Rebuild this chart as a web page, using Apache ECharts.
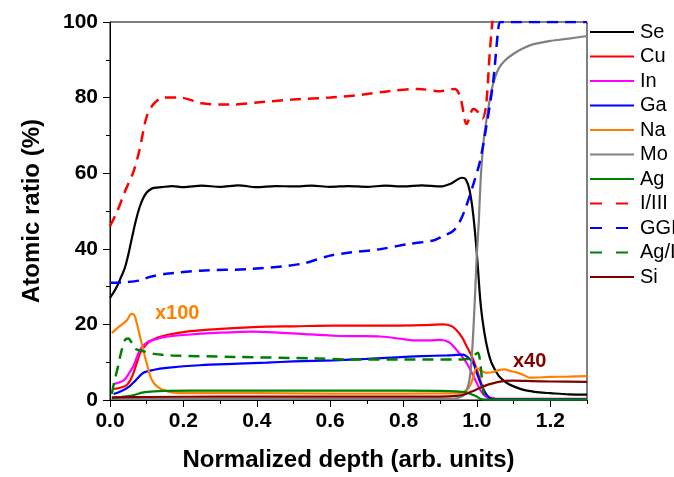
<!DOCTYPE html>
<html>
<head>
<meta charset="utf-8">
<script src="https://cdn.jsdelivr.net/npm/echarts@6/dist/echarts.min.js"></script>
<style>
html, body { margin: 0; padding: 0; background: #fff; }
#chart { width: 674px; height: 477px; }
</style>
</head>
<body>
<div id="chart"></div>
<script>
// depth profile data, [normalized depth, atomic ratio %]
var seData = [[0.0,27],[0.01,28.5],[0.02,30.2],[0.03,32.5],[0.04,34.8],[0.05,38.5],[0.06,43],[0.07,47.3],[0.08,50.8],[0.09,53.3],[0.1,54.9],[0.11,55.7],[0.12,56.1],[0.14,56.3],[0.17,56.6],[0.2,56.3],[0.25,56.7],[0.3,56.4],[0.35,56.8],[0.4,56.3],[0.45,56.6],[0.5,56.5],[0.55,56.7],[0.6,56.4],[0.65,56.6],[0.7,56.4],[0.75,56.7],[0.8,56.5],[0.85,56.8],[0.9,56.5],[0.93,57.3],[0.95,58.5],[0.96,58.8],[0.97,58.3],[0.98,55.5],[0.99,49],[1.0,38.5],[1.01,25.5],[1.02,18],[1.03,13],[1.04,9.8],[1.06,6.3],[1.08,4.6],[1.1,3.6],[1.13,2.6],[1.17,2],[1.2,1.8],[1.25,1.5],[1.3,1.4]];
var cuData = [[0.01,2.9],[0.03,3.3],[0.045,3.9],[0.055,5.2],[0.064,7.2],[0.073,9.8],[0.082,12.4],[0.095,14.3],[0.109,15.5],[0.13,16.5],[0.154,17.2],[0.209,18.1],[0.27,18.6],[0.336,19],[0.427,19.4],[0.5,19.5],[0.609,19.7],[0.7,19.7],[0.781,19.7],[0.85,19.8],[0.908,20],[0.93,19.6],[0.944,18.5],[0.96,16.5],[0.972,14.2],[0.99,10.7],[1.008,5.5],[1.02,2.3],[1.03,0.9],[1.05,0.4],[1.3,0.3]];
var inData = [[0.01,4.2],[0.03,4.8],[0.041,5.5],[0.05,6.8],[0.064,9],[0.073,11.3],[0.082,13.3],[0.1,15.2],[0.118,15.9],[0.15,16.7],[0.2,17.2],[0.3,17.8],[0.39,18.1],[0.45,17.9],[0.52,17.5],[0.609,17],[0.68,16.9],[0.736,16.8],[0.8,16.1],[0.826,15.8],[0.87,15.8],[0.9,15.9],[0.925,15.2],[0.944,13.3],[0.972,9.8],[0.999,4.6],[1.015,1.8],[1.03,0.5],[1.05,0.2],[1.3,0.2]];
var gaData = [[0.01,1.6],[0.03,2.3],[0.054,3.7],[0.07,5.2],[0.091,7.2],[0.12,8],[0.154,8.5],[0.245,9.2],[0.35,9.6],[0.427,9.9],[0.5,10.2],[0.609,10.5],[0.7,10.9],[0.781,11.3],[0.85,11.6],[0.92,11.8],[0.963,12],[0.975,11.3],[0.99,9.8],[1.0,7],[1.017,2.9],[1.035,0.5],[1.06,0.2],[1.3,0.2]];
var naData = [[0.005,17.7],[0.02,19],[0.045,21],[0.059,22.8],[0.066,22.5],[0.072,20.7],[0.079,18],[0.086,15.1],[0.093,12.3],[0.1,9.8],[0.113,5.5],[0.132,3.3],[0.168,2],[0.2,1.8],[0.4,1.8],[0.6,1.7],[0.8,1.7],[0.95,1.8],[0.97,2.5],[0.981,3.7],[0.99,6],[0.999,8.5],[1.01,7.8],[1.026,7.2],[1.045,7.4],[1.06,7.9],[1.075,8.1],[1.09,7.7],[1.108,7.3],[1.13,6.5],[1.144,5.9],[1.2,6.1],[1.25,6.2],[1.3,6.3]];
var moData = [[0.005,0.3],[0.5,0.3],[0.94,0.4],[0.955,0.8],[0.965,1.3],[0.975,3.5],[0.98,5.5],[0.985,10],[0.99,18],[0.995,28],[1.0,39],[1.005,47],[1.01,58],[1.015,65],[1.02,70],[1.03,76.5],[1.04,82],[1.05,85.5],[1.06,87.8],[1.075,89.7],[1.1,91.6],[1.125,93],[1.15,94],[1.2,95],[1.25,95.6],[1.3,96.3]];
var agData = [[0.005,0.5],[0.03,0.8],[0.06,1.2],[0.091,2],[0.12,2.3],[0.15,2.4],[0.3,2.5],[0.5,2.5],[0.7,2.5],[0.9,2.4],[0.944,2.3],[0.97,2],[0.985,1.5],[0.999,0.9],[1.01,0.3],[1.02,0.1],[1.3,0.1]];
var ratioIIIData = [[0.0,46],[0.02,50],[0.04,55],[0.064,60.4],[0.08,66],[0.1,75],[0.118,78.2],[0.145,80],[0.19,80],[0.25,78.5],[0.3,78.2],[0.34,78.2],[0.4,78.7],[0.5,79.5],[0.6,80],[0.69,80.8],[0.76,81.7],[0.84,82.3],[0.9,81.7],[0.94,82.3],[0.955,80],[0.972,73],[0.99,77],[1.0,76.5],[1.015,74.5],[1.025,78],[1.035,92],[1.042,100],[1.05,110]];
var ggiData = [[0.0,31],[0.045,31.2],[0.08,31.6],[0.11,32.6],[0.154,33.4],[0.245,34.2],[0.39,34.7],[0.52,36],[0.6,38.2],[0.654,39],[0.736,39.9],[0.808,41.2],[0.881,42.2],[0.908,43.4],[0.935,44.7],[0.955,47.5],[0.972,51.6],[0.99,57],[1.008,63],[1.026,72.6],[1.044,83.9],[1.058,97.8],[1.065,100],[1.3,100]];
var agIData = [[0.005,1.6],[0.012,5],[0.021,8.5],[0.03,12.5],[0.041,15.9],[0.05,16.3],[0.06,15],[0.07,13.5],[0.091,12.9],[0.12,12.2],[0.168,11.8],[0.336,11.4],[0.563,11],[0.645,10.7],[0.8,10.7],[0.95,10.7],[0.985,11],[0.995,12],[1.003,12.5],[1.01,9],[1.015,4],[1.02,1],[1.025,0.3]];
var siData = [[0.005,0.7],[0.1,0.8],[0.3,0.9],[0.5,0.9],[0.7,0.9],[0.9,0.9],[0.944,1.1],[0.97,1.6],[0.99,2.4],[1.01,3.3],[1.035,4.2],[1.072,5],[1.1,5.1],[1.15,5],[1.2,4.9],[1.3,4.8]];

var names = ['Se', 'Cu', 'In', 'Ga', 'Na', 'Mo', 'Ag', 'I/III', 'GGI', 'Ag/I', 'Si'];
var colors = ['#000000', '#ff0000', '#ff00ff', '#0000ff', '#ff8000', '#808080', '#008000', '#ff0000', '#0000ff', '#008000', '#800000'];
var seriesData = [seData, cuData, inData, gaData, naData, moData, agData, ratioIIIData, ggiData, agIData, siData];
var dashed = ['I/III', 'GGI', 'Ag/I'];

var font = "'Liberation Sans', Arial, sans-serif";

var series = names.map(function (n, i) {
    var isDash = dashed.indexOf(n) >= 0;
    return {
        name: n,
        type: 'line',
        data: seriesData[i],
        symbol: 'none',
        smooth: 0.3,
        lineStyle: {
            color: colors[i],
            width: isDash ? 2.5 : 2.2,
            type: isDash ? [11, 7] : 'solid'
        },
        itemStyle: { color: colors[i] }
    };
});

var myChart = echarts.init(document.getElementById('chart'));
myChart.setOption({
    animation: false,
    grid: {
        left: 110,
        top: 22,
        width: 477,
        height: 382,
        show: true,
        borderColor: '#000',
        borderWidth: 1
    },
    legend: {
        orient: 'vertical',
        left: 589,
        top: 22,
        padding: 0,
        itemWidth: 44,
        itemHeight: 20,
        itemGap: 4.5,
        // hide the marker circle, keep only the line
        itemStyle: { opacity: 0 },
        textStyle: { fontFamily: font, fontSize: 20, color: '#000', lineHeight: 20, padding: [0, 0, 0, 1] },
        data: names.map(function (n) {
            var d = { name: n };
            if (dashed.indexOf(n) >= 0) {
                d.lineStyle = { type: [12, 14] };
            }
            return d;
        })
    },
    xAxis: [{
        type: 'value',
        min: 0,
        max: 1.3,
        interval: 0.2,
        name: 'Normalized depth (arb. units)',
        nameLocation: 'middle',
        nameGap: 48,
        nameTextStyle: { fontFamily: font, fontSize: 24, fontWeight: 'bold', color: '#000' },
        axisLine: { lineStyle: { color: '#000', width: 1 } },
        axisTick: { length: 7, lineStyle: { color: '#000' } },
        axisLabel: {
            fontFamily: font, fontSize: 21, fontWeight: 'bold', color: '#000', margin: 11,
            showMaxLabel: false,
            formatter: function (v) { return v.toFixed(1); }
        },
        splitLine: { show: false }
    }, {
        // minor ticks every 0.1
        type: 'value',
        min: 0,
        max: 1.3,
        interval: 0.1,
        position: 'bottom',
        axisLine: { show: false },
        axisTick: { length: 4, lineStyle: { color: '#000' } },
        axisLabel: { show: false },
        splitLine: { show: false }
    }],
    yAxis: {
        type: 'value',
        min: 0,
        max: 100,
        interval: 20,
        name: 'Atomic ratio (%)',
        nameLocation: 'middle',
        nameGap: 66,
        nameTextStyle: { fontFamily: font, fontSize: 24, fontWeight: 'bold', color: '#000' },
        axisLine: { show: true, lineStyle: { color: '#000', width: 1 } },
        axisTick: { show: true, length: 7, lineStyle: { color: '#000' } },
        minorTick: { show: true, splitNumber: 2, length: 4, lineStyle: { color: '#000' } },
        axisLabel: { fontFamily: font, fontSize: 21, fontWeight: 'bold', color: '#000', margin: 12 },
        splitLine: { show: false }
    },
    graphic: [
        { type: 'text', left: 155, top: 303, style: { text: 'x100', fill: '#ff8000', font: 'bold 20px ' + font } },
        { type: 'text', left: 513, top: 351, style: { text: 'x40', fill: '#800000', font: 'bold 20px ' + font } }
    ],
    series: series
});
</script>
</body>
</html>
